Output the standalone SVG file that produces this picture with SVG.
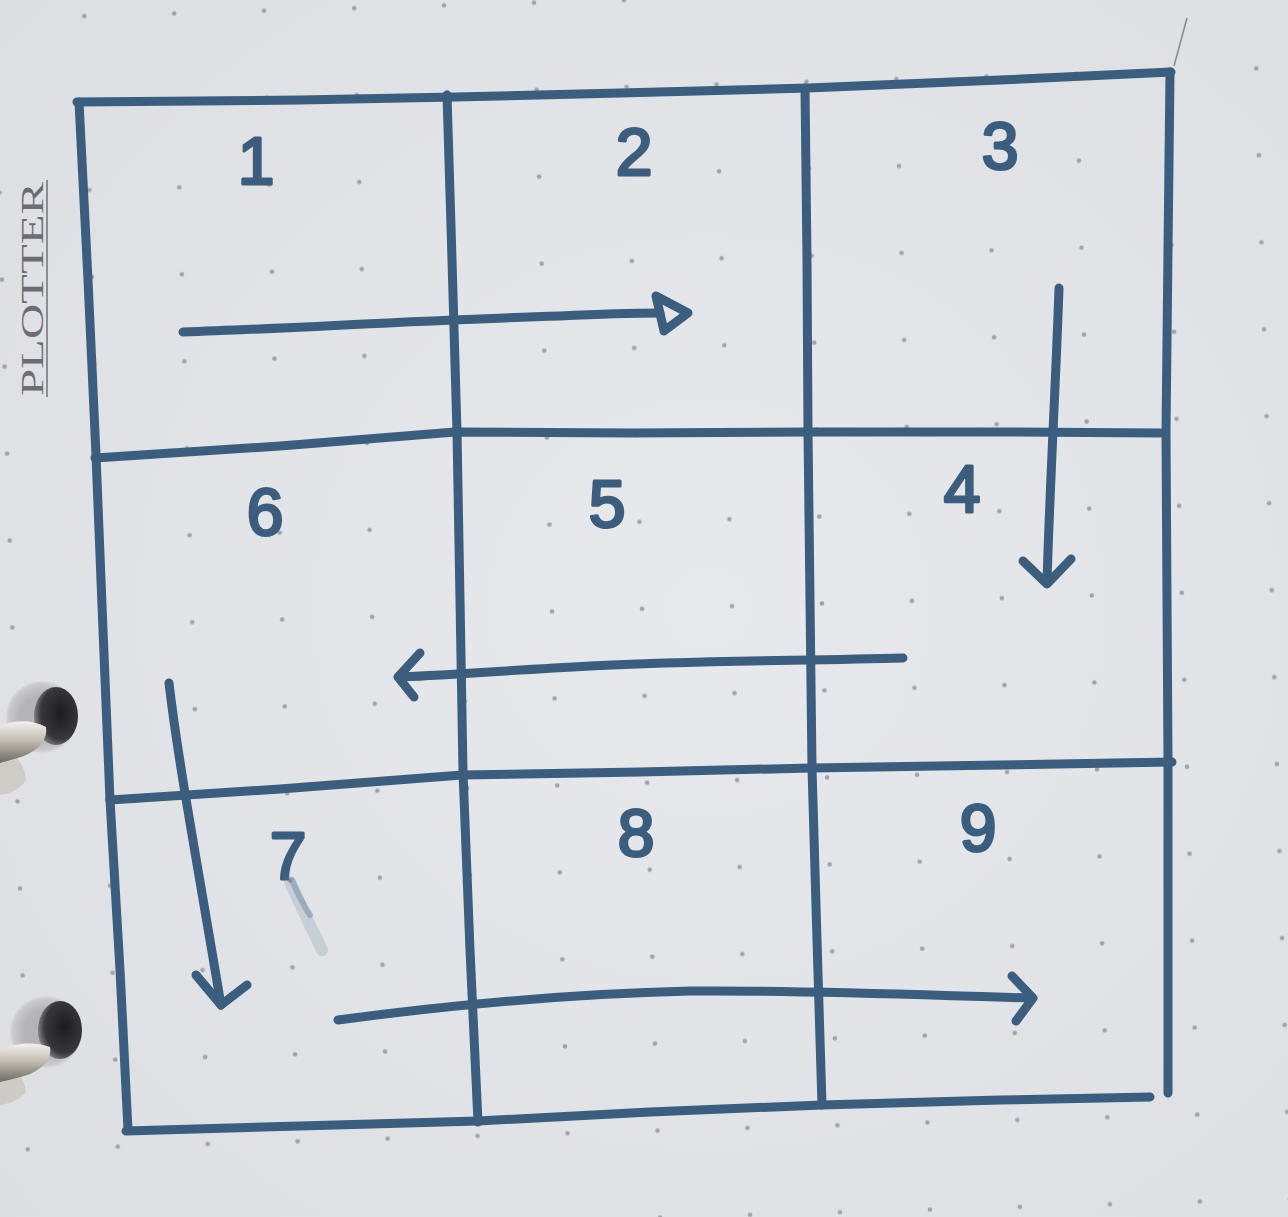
<svg xmlns="http://www.w3.org/2000/svg" width="1288" height="1217" viewBox="0 0 1288 1217">
  <defs>
    <style>
      .pen { fill: none; stroke: #3b5d7e; stroke-width: 9; stroke-linecap: round; stroke-linejoin: round; }
      .num { font-family: "Liberation Sans", Arial, sans-serif; font-size: 66px; fill: #3b5d7e; stroke: #3b5d7e; stroke-width: 3; stroke-linejoin: round; text-anchor: middle; }
      .brand { font-family: "Liberation Serif", "Times New Roman", serif; font-size: 31px; fill: #6b6d72; }
    </style>
    <radialGradient id="paper" cx="0.55" cy="0.5" r="0.75">
      <stop offset="0" stop-color="#e7e9ec"/>
      <stop offset="1" stop-color="#dcdee2"/>
    </radialGradient>
    <pattern id="dots" patternUnits="userSpaceOnUse" x="854" y="122.5" width="90" height="87" patternTransform="rotate(-1.7 899 166)">
      <circle cx="45" cy="43.5" r="2.3" fill="#a0a4aa"/>
    </pattern>
    <linearGradient id="metal" x1="0" y1="0" x2="0" y2="1">
      <stop offset="0" stop-color="#f4f2ee"/>
      <stop offset="0.45" stop-color="#c4beb4"/>
      <stop offset="1" stop-color="#6f6a62"/>
    </linearGradient>
    <radialGradient id="hole" cx="0.6" cy="0.45" r="0.6">
      <stop offset="0" stop-color="#1c1c20"/>
      <stop offset="0.75" stop-color="#38373b"/>
      <stop offset="1" stop-color="#7d7c80"/>
    </radialGradient>
    <radialGradient id="rim" cx="0.5" cy="0.5" r="0.5">
      <stop offset="0.6" stop-color="#b4b3b7"/>
      <stop offset="0.9" stop-color="#c8c7cb"/>
      <stop offset="1" stop-color="#d8d9dd"/>
    </radialGradient>
  </defs>

  <!-- paper -->
  <rect x="0" y="0" width="1288" height="1217" fill="url(#paper)"/>
  <rect x="0" y="0" width="1288" height="1217" fill="url(#dots)"/>

  <!-- brand -->
  <g id="brand">
    <text class="brand" transform="translate(43 396) rotate(-90)" textLength="214" lengthAdjust="spacingAndGlyphs">PLOTTER</text>
    <line x1="47" y1="180" x2="47" y2="397" stroke="#76787c" stroke-width="1.6"/>
  </g>

  <!-- binder rings -->
  <g id="ring-top">
    <path d="M0,750 C14,752 24,762 26,780 C20,790 8,794 0,795 Z" fill="#bdb3a4" opacity="0.45"/>
    <circle cx="42" cy="717" r="36" fill="url(#rim)"/>
    <ellipse cx="56" cy="716" rx="22" ry="29" fill="url(#hole)"/>
    <path d="M0,726 C14,720 32,719 46,727 C48,738 40,749 26,755 C16,759 6,761 0,763 Z" fill="url(#metal)"/>
  </g>
  <g id="ring-bottom">
    <path d="M0,1064 C14,1066 24,1076 26,1092 C20,1100 8,1104 0,1105 Z" fill="#bdb3a4" opacity="0.45"/>
    <circle cx="46" cy="1032" r="36" fill="url(#rim)"/>
    <ellipse cx="60" cy="1030" rx="22" ry="29" fill="url(#hole)"/>
    <path d="M0,1050 C14,1043 34,1041 50,1047 C52,1058 44,1068 30,1074 C18,1078 8,1080 0,1082 Z" fill="url(#metal)"/>
  </g>

  <!-- paper edge mark -->
  <line x1="1174" y1="66" x2="1187" y2="18" stroke="#8a8c92" stroke-width="1.6"/>

  <!-- grid -->
  <g id="grid" class="pen">
    <path d="M77,102 L300,100 L455,97 L620,93 L808,88 L1000,80 L1171,72"/>
    <path d="M79,102 L88,280 L96,455 L103,630 L110,800 L120,970 L128,1130"/>
    <path d="M126,1131 L300,1126 L478,1121 L650,1112 L822,1105 L1000,1100 L1150,1097"/>
    <path d="M1170,72 L1168,250 L1166,432 L1167,600 L1168,760 L1168,1093"/>
    <path d="M447,95 L452,260 L457,432 L460,600 L463,772 L470,950 L478,1122"/>
    <path d="M805,88 L807,260 L808,432 L810,600 L812,768 L817,940 L822,1105"/>
    <path d="M95,458 L280,446 L455,432 L630,433 L808,432 L1000,432 L1160,433"/>
    <path d="M110,800 L280,789 L462,775 L640,772 L812,768 L1000,765 L1172,762"/>
  </g>

  <!-- cell numbers -->
  <g id="cell-1"><text class="num" x="256" y="184">1</text></g>
  <g id="cell-2"><text class="num" x="634" y="175">2</text></g>
  <g id="cell-3"><text class="num" x="1000" y="169">3</text></g>
  <g id="cell-4"><text class="num" x="962" y="512">4</text></g>
  <g id="cell-5"><text class="num" x="607" y="527">5</text></g>
  <g id="cell-6"><text class="num" x="265" y="535">6</text></g>
  <g id="cell-7"><text class="num" x="288" y="879">7</text></g>
  <g id="cell-8"><text class="num" x="636" y="856">8</text></g>
  <g id="cell-9"><text class="num" x="978" y="851">9</text></g>

  <!-- ink smudge -->
  <path d="M290,882 Q305,915 322,950" fill="none" stroke="#6a86a0" stroke-width="12" stroke-linecap="round" opacity="0.22"/>
  <path d="M292,880 Q300,900 310,915" fill="none" stroke="#4d6c8a" stroke-width="6" stroke-linecap="round" opacity="0.35"/>

  <!-- path arrows -->
  <g id="connectors" class="pen">
    <path d="M183,332 C300,328 420,320 560,316 C600,314 630,313 660,313"/>
    <path d="M656,296 L688,313 L664,331 Z"/>

    <path d="M1059,288 C1056,380 1050,480 1047,582"/>
    <path d="M1023,561 L1047,584 L1071,559"/>

    <path d="M903,658 C800,661 700,660 590,666 C500,671 430,676 399,677"/>
    <path d="M420,653 L398,677 L414,697"/>

    <path d="M169,683 C178,760 195,850 221,1005"/>
    <path d="M196,975 L221,1005 L247,985"/>

    <path d="M338,1020 C450,1005 560,994 690,991 C800,990 920,995 1031,998"/>
    <path d="M1012,976 L1033,998 L1016,1021"/>
  </g>
</svg>
